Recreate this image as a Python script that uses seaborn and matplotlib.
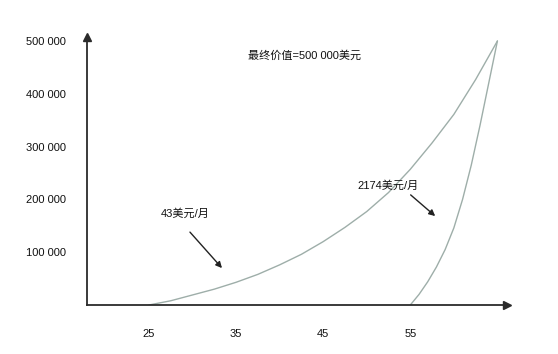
import matplotlib
matplotlib.use("Agg")
import matplotlib.pyplot as plt
import seaborn as sns
import pandas as pd

# Growth of a retirement account: saving from 25 vs. saving from 55, both reaching 500 000 at 65
early_age = [25, 27.5, 30, 32.5, 35, 37.5, 40, 42.5, 45, 47.5, 50, 52.5, 55, 57.5, 60, 62.5, 65]
early_value = [0, 8000, 19000, 30000, 43000, 58000, 76000, 96000, 120000, 147000,
               177000, 213000, 257000, 307000, 361000, 427000, 500000]
late_age = [55, 56, 57, 58, 59, 60, 61, 62, 63, 64, 65]
late_value = [0, 20000, 44000, 72000, 105000, 146000, 200000, 265000, 340000, 420000, 500000]

x_ticks = [25, 35, 45, 55]
y_ticks = [100000, 200000, 300000, 400000, 500000]
y_tick_labels = ["100 000", "200 000", "300 000", "400 000", "500 000"]
title_text = "最终价值=500 000美元"
early_label = "43美元/月"
late_label = "2174美元/月"

sns.set_style("white")
plt.rcParams["font.family"] = ["Liberation Sans", "Noto Sans CJK SC"]

df = pd.concat([
    pd.DataFrame({"age": early_age, "value": early_value, "plan": "early"}),
    pd.DataFrame({"age": late_age, "value": late_value, "plan": "late"}),
])

fig = plt.figure(figsize=(5.58, 3.54), dpi=100)
ax = fig.add_axes([0.156, 0.1384, 0.7526, 0.7571])

curve_color = "#9eaea9"
sns.lineplot(data=df, x="age", y="value", units="plan", estimator=None,
             color=curve_color, linewidth=1.0, ax=ax, sort=False)

ax.set_xlim(17.9, 66.1)
ax.set_ylim(0, 507600)

axis_color = "#2b2b2b"
for side in ("top", "right"):
    ax.spines[side].set_visible(False)
for side in ("left", "bottom"):
    ax.spines[side].set_color(axis_color)
    ax.spines[side].set_linewidth(1.3)

# arrowheads on the axis ends
ax.plot(1, 0, marker=">", color=axis_color, markersize=6,
        transform=ax.transAxes, clip_on=False)
ax.plot(0, 1, marker="^", color=axis_color, markersize=6,
        transform=ax.transAxes, clip_on=False)

ax.set_xticks(x_ticks)
ax.set_xticklabels([str(t) for t in x_ticks])
ax.set_yticks(y_ticks)
ax.set_yticklabels(y_tick_labels)
ax.tick_params(axis="x", direction="in", length=9.5, width=1.2, color=axis_color,
               pad=17, labelsize=8, labelcolor="#111111")
ax.tick_params(axis="y", direction="in", length=9.5, width=1.2, color=axis_color,
               pad=15, labelsize=8, labelcolor="#111111")
ax.yaxis.get_major_ticks()[-1].tick1line.set_visible(False)
ax.set_xlabel("")
ax.set_ylabel("")

ax.text(42.9, 473000, title_text, ha="center", va="center", fontsize=8, color="#111111")
ax.text(29.2, 174000, early_label, ha="center", va="center", fontsize=8, color="#111111")
ax.text(52.4, 227000, late_label, ha="center", va="center", fontsize=8, color="#111111")

arrow_style = dict(arrowstyle="-|>", color="#222222", lw=1.0, mutation_scale=9)
ax.annotate("", xy=(33.6, 66000), xytext=(29.5, 142000), arrowprops=arrow_style)
ax.annotate("", xy=(58.1, 165000), xytext=(54.8, 212000), arrowprops=arrow_style)

fig.savefig("out.png", dpi=100)
